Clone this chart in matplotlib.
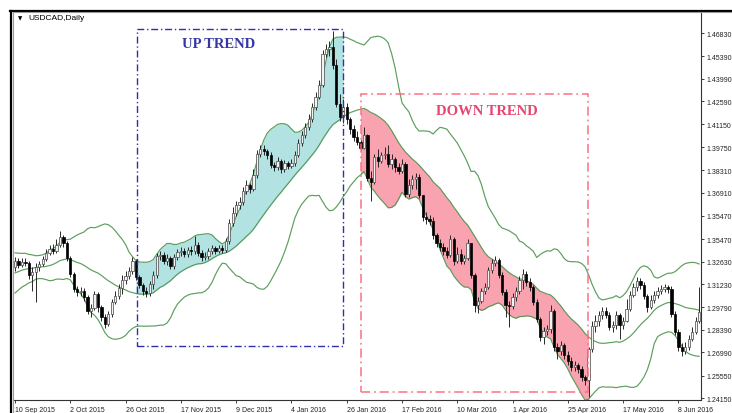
import numpy as np
import pandas as pd
import matplotlib
matplotlib.use("Agg")
import matplotlib.pyplot as plt
from matplotlib.patches import Rectangle
from matplotlib.lines import Line2D

# ---------------- data ----------------
# closes of the 19 sessions before the first visible bar (needed for the 20-period bands)
prior_closes = [1.3075, 1.3090, 1.3125, 1.3110, 1.3150, 1.3135, 1.3190, 1.3250, 1.3265, 1.3240,
                1.3185, 1.3150, 1.3165, 1.3250, 1.3215, 1.3240, 1.3285, 1.3250, 1.3215]
first_open = 1.3229

closes = [
    1.3266, 1.3242, 1.3260, 1.3254, 1.3179, 1.3198, 1.3229, 1.3248, 1.3279, 1.3316,
    1.3341, 1.3329, 1.3366, 1.3415, 1.3378, 1.3285, 1.3186, 1.3092, 1.3074, 1.3080,
    1.3043, 1.2956, 1.2974, 1.3061, 1.2981, 1.2918, 1.2875, 1.2937, 1.3012, 1.3049,
    1.3099, 1.3148, 1.3173, 1.3204, 1.3266, 1.3167, 1.3117, 1.3080, 1.3067, 1.3123,
    1.3179, 1.3297, 1.3304, 1.3266, 1.3285, 1.3235, 1.3291, 1.3322, 1.3329, 1.3310,
    1.3335, 1.3329, 1.3366, 1.3316, 1.3291, 1.3297, 1.3329, 1.3347, 1.3329, 1.3347,
    1.3335, 1.3391, 1.3502, 1.3565, 1.3614, 1.3633, 1.3701, 1.3739, 1.3714, 1.3801,
    1.3931, 1.3962, 1.3950, 1.3925, 1.3863, 1.3850, 1.3888, 1.3838, 1.3875, 1.3857,
    1.3875, 1.3925, 1.3999, 1.4049, 1.4099, 1.4149, 1.4223, 1.4285, 1.4360, 1.4553,
    1.4584, 1.4596, 1.4484, 1.4242, 1.4161, 1.4223, 1.4149, 1.4087, 1.4037, 1.4006,
    1.3969, 1.4049, 1.3782, 1.3757, 1.3913, 1.3888, 1.3925, 1.3931, 1.3869, 1.3900,
    1.3850, 1.3826, 1.3869, 1.3683, 1.3739, 1.3776, 1.3788, 1.3676, 1.3540, 1.3527,
    1.3515, 1.3428, 1.3378, 1.3353, 1.3329, 1.3304, 1.3403, 1.3266, 1.3310, 1.3266,
    1.3285, 1.3378, 1.3179, 1.2993, 1.3018, 1.3080, 1.3105, 1.3210, 1.3254, 1.3273,
    1.3179, 1.3074, 1.2993, 1.2987, 1.3043, 1.3080, 1.3148, 1.3186, 1.3136, 1.3105,
    1.3012, 1.2906, 1.2794, 1.2831, 1.2844, 1.2956, 1.2732, 1.2707, 1.2744, 1.2682,
    1.2645, 1.2608, 1.2620, 1.2595, 1.2545, 1.2527, 1.2719, 1.2863, 1.2894, 1.2931,
    1.2956, 1.2931, 1.2856, 1.2869, 1.2931, 1.2869, 1.2894, 1.2968, 1.3055, 1.3105,
    1.3142, 1.3117, 1.3049, 1.2981, 1.3024, 1.3055, 1.3080, 1.3092, 1.3105, 1.3092,
    1.2937, 1.2825, 1.2732, 1.2707, 1.2732, 1.2782, 1.2825, 1.2894, 1.2950,
]
highs = [
    1.3291, 1.3285, 1.3285, 1.3285, 1.3266, 1.3229, 1.3254, 1.3266, 1.3297, 1.3341,
    1.3366, 1.3372, 1.3403, 1.3453, 1.3428, 1.3391, 1.3297, 1.3198, 1.3111, 1.3105,
    1.3099, 1.3055, 1.2999, 1.3080, 1.3074, 1.2993, 1.2937, 1.2956, 1.3030, 1.3080,
    1.3123, 1.3179, 1.3204, 1.3229, 1.3291, 1.3279, 1.3179, 1.3130, 1.3105, 1.3142,
    1.3204, 1.3316, 1.3329, 1.3322, 1.3310, 1.3297, 1.3310, 1.3341, 1.3353, 1.3347,
    1.3353, 1.3360, 1.3422, 1.3384, 1.3335, 1.3322, 1.3347, 1.3366, 1.3360, 1.3366,
    1.3366, 1.3409, 1.3527, 1.3602, 1.3639, 1.3664, 1.3726, 1.3770, 1.3751, 1.3838,
    1.3956, 1.3987, 1.3987, 1.3962, 1.3944, 1.3882, 1.3913, 1.3900, 1.3894, 1.3888,
    1.3900, 1.3950, 1.4024, 1.4074, 1.4124, 1.4180, 1.4248, 1.4317, 1.4391, 1.4578,
    1.4615, 1.4633, 1.4696, 1.4522, 1.4304, 1.4273, 1.4248, 1.4161, 1.4111, 1.4074,
    1.4018, 1.4099, 1.4055, 1.3826, 1.3931, 1.3962, 1.3944, 1.3975, 1.3987, 1.3931,
    1.3913, 1.3875, 1.3900, 1.3882, 1.3776, 1.3801, 1.3813, 1.3807, 1.3676, 1.3571,
    1.3552, 1.3540, 1.3440, 1.3403, 1.3378, 1.3353, 1.3428, 1.3415, 1.3353, 1.3341,
    1.3304, 1.3403, 1.3366, 1.3192, 1.3043, 1.3099, 1.3130, 1.3229, 1.3279, 1.3297,
    1.3285, 1.3198, 1.3092, 1.3018, 1.3067, 1.3105, 1.3173, 1.3217, 1.3204, 1.3161,
    1.3117, 1.3030, 1.2918, 1.2856, 1.2869, 1.2993, 1.2968, 1.2757, 1.2769, 1.2757,
    1.2707, 1.2670, 1.2645, 1.2633, 1.2614, 1.2558, 1.2732, 1.2894, 1.2931, 1.2956,
    1.2981, 1.2981, 1.2950, 1.2894, 1.2956, 1.2943, 1.2918, 1.3030, 1.3080, 1.3130,
    1.3167, 1.3161, 1.3136, 1.3061, 1.3055, 1.3080, 1.3105, 1.3117, 1.3123, 1.3117,
    1.3111, 1.2956, 1.2844, 1.2757, 1.2763, 1.2806, 1.2856, 1.2918, 1.3105,
]
lows = [
    1.3204, 1.3223, 1.3229, 1.3235, 1.3154, 1.3080, 1.3012, 1.3204, 1.3235, 1.3266,
    1.3304, 1.3310, 1.3316, 1.3353, 1.3353, 1.3266, 1.3167, 1.3074, 1.3049, 1.3049,
    1.3018, 1.2937, 1.2918, 1.2962, 1.2950, 1.2894, 1.2850, 1.2862, 1.2918, 1.2999,
    1.3030, 1.3061, 1.3123, 1.3154, 1.3186, 1.3148, 1.3099, 1.3055, 1.3043, 1.3049,
    1.3092, 1.3161, 1.3273, 1.3248, 1.3242, 1.3217, 1.3217, 1.3273, 1.3297, 1.3291,
    1.3291, 1.3304, 1.3310, 1.3297, 1.3266, 1.3273, 1.3279, 1.3310, 1.3310, 1.3316,
    1.3316, 1.3322, 1.3372, 1.3484, 1.3546, 1.3590, 1.3614, 1.3683, 1.3689, 1.3701,
    1.3782, 1.3913, 1.3925, 1.3900, 1.3844, 1.3826, 1.3832, 1.3813, 1.3819, 1.3838,
    1.3844, 1.3857, 1.3913, 1.3981, 1.4031, 1.4080, 1.4130, 1.4205, 1.4273, 1.4348,
    1.4534, 1.4540, 1.4459, 1.4223, 1.4136, 1.4124, 1.4118, 1.4055, 1.4012, 1.3987,
    1.3956, 1.3962, 1.3763, 1.3639, 1.3745, 1.3850, 1.3875, 1.3900, 1.3850, 1.3838,
    1.3819, 1.3807, 1.3813, 1.3664, 1.3664, 1.3714, 1.3714, 1.3658, 1.3515, 1.3496,
    1.3490, 1.3403, 1.3353, 1.3329, 1.3304, 1.3285, 1.3291, 1.3242, 1.3254, 1.3248,
    1.3248, 1.3273, 1.3161, 1.2950, 1.2943, 1.3005, 1.3061, 1.3092, 1.3192, 1.3235,
    1.3161, 1.3055, 1.2918, 1.2856, 1.2968, 1.3018, 1.3061, 1.3092, 1.3111, 1.3080,
    1.2993, 1.2887, 1.2769, 1.2751, 1.2806, 1.2819, 1.2707, 1.2657, 1.2682, 1.2657,
    1.2620, 1.2583, 1.2583, 1.2570, 1.2521, 1.2496, 1.2421, 1.2701, 1.2825, 1.2863,
    1.2906, 1.2912, 1.2838, 1.2825, 1.2844, 1.2782, 1.2844, 1.2887, 1.2956, 1.3043,
    1.3080, 1.3092, 1.3030, 1.2950, 1.2968, 1.3005, 1.3036, 1.3061, 1.3074, 1.3067,
    1.2918, 1.2806, 1.2707, 1.2676, 1.2688, 1.2713, 1.2769, 1.2813, 1.2881,
]

x_label_pos = [0, 16, 32, 48, 64, 80, 96, 112, 128, 144, 160, 176, 192]
x_labels = ["10 Sep 2015", "2 Oct 2015", "26 Oct 2015", "17 Nov 2015", "9 Dec 2015",
            "4 Jan 2016", "26 Jan 2016", "17 Feb 2016", "10 Mar 2016", "1 Apr 2016",
            "25 Apr 2016", "17 May 2016", "8 Jun 2016"]
y_tick_pos = [1.4683, 1.4539, 1.4399, 1.4259, 1.4115, 1.3975, 1.3831, 1.3691, 1.3547,
              1.3403, 1.3263, 1.3123, 1.2979, 1.2839, 1.2699, 1.2555, 1.2415]
y_labels = ["1.46830", "1.45390", "1.43990", "1.42590", "1.41150", "1.39750", "1.38310",
            "1.36910", "1.35470", "1.35470", "1.32630", "1.31230", "1.29790", "1.28390",
            "1.26990", "1.25550", "1.24150"]

up_trend_span = (35, 95)      # bars shaded between upper and middle band
down_trend_span = (100, 166)  # bars shaded between middle and lower band

# ---------------- derived ----------------
closes_a = np.array(closes)
opens_a = np.array([first_open] + closes[:-1])
highs_a = np.array(highs)
lows_a = np.array(lows)
n = len(closes_a)
idx = np.arange(n)

allc = pd.Series(prior_closes + closes)
mid = allc.rolling(20).mean().to_numpy()[len(prior_closes):]
sd = allc.rolling(20).std(ddof=0).to_numpy()[len(prior_closes):]
upper = mid + 2 * sd
lower = mid - 2 * sd

# ---------------- figure ----------------
W, H = 732, 414
fig = plt.figure(figsize=(W / 100, H / 100), dpi=100)
fig.patch.set_facecolor("white")
ax = fig.add_axes([14 / W, 13 / H, 687 / W, 388 / H])
ax.set_facecolor("white")

ax.set_xlim(-0.29, 198.55)
ax.set_ylim(1.2403, 1.4814)

band_col = "#4a944a"
s0, s1 = up_trend_span
ax.fill_between(idx[s0:s1 + 1], mid[s0:s1 + 1], upper[s0:s1 + 1], color="#b2e2e2", lw=0, zorder=1)
d0, d1 = down_trend_span
ax.fill_between(idx[d0:d1 + 1], lower[d0:d1 + 1], mid[d0:d1 + 1], color="#f9a3b1", lw=0, zorder=1)

for band in (upper, mid, lower):
    ax.plot(idx, band, color=band_col, lw=0.85, alpha=0.9, zorder=2)

# candles
ax.vlines(idx, lows_a, highs_a, color="#1a1a1a", lw=0.65, zorder=3)
bull = closes_a >= opens_a
body_lo = np.minimum(opens_a, closes_a)
body_h = np.maximum(np.abs(closes_a - opens_a), 0.00015)
ax.bar(idx[bull], body_h[bull], bottom=body_lo[bull], width=0.66,
       color="#f2f2f2", edgecolor="#555555", linewidth=0.55, zorder=4)
ax.bar(idx[~bull], body_h[~bull], bottom=body_lo[~bull], width=0.66,
       color="black", edgecolor="black", linewidth=0.5, zorder=4)

# trend boxes
blue = "#2e2eb0"
ax.add_patch(Rectangle((35.2, 1.2738), 95.0 - 35.2, 1.4708 - 1.2738, fill=False,
                       edgecolor=blue, lw=1.0, linestyle=(0, (5, 2, 1, 2)), zorder=6))
red = "#ff6f80"
ax.add_patch(Rectangle((100.1, 1.2452), 165.9 - 100.1, 1.4304 - 1.2452, fill=False,
                       edgecolor=red, lw=1.1, linestyle=(0, (6, 2.5, 1.2, 2.5)), zorder=6))
ax.text(59.0, 1.4620, "UP TREND", family="Liberation Serif", fontsize=10.5,
        fontweight="bold", color="#3535a5", ha="center", va="center", zorder=7)
ax.text(136.6, 1.4204, "DOWN TREND", family="Liberation Serif", fontsize=10.5,
        fontweight="bold", color="#e6456f", ha="center", va="center", zorder=7)

# axes styling
for s in ("left", "top"):
    ax.spines[s].set_visible(False)
for s in ("right", "bottom"):
    ax.spines[s].set_color("#333333")
    ax.spines[s].set_linewidth(0.8)
ax.yaxis.tick_right()
ax.set_yticks(y_tick_pos)
ax.set_yticklabels(y_labels)
ax.tick_params(axis="y", length=2.5, width=0.6, pad=1.5, labelsize=5, colors="#222222")
ax.set_xticks(x_label_pos)
ax.set_xticklabels(x_labels)
ax.tick_params(axis="x", length=2.5, width=0.6, pad=1.5, labelsize=5, colors="#222222")
for t in ax.get_xticklabels():
    t.set_ha("left")
    t.set_family("Liberation Sans")
for t in ax.get_yticklabels():
    t.set_family("Liberation Sans")

# window frame
def px_line(x0, y0, x1, y1, color, lw):
    fig.add_artist(Line2D([x0 / W, x1 / W], [1 - y0 / H, 1 - y1 / H],
                          color=color, lw=lw, transform=fig.transFigure))

px_line(10, 11.5, W, 11.5, "black", 1.6)
px_line(11, 11.5, 11, H, "black", 1.6)
px_line(13, 13.3, W, 13.3, "#9a9a9a", 0.8)
px_line(13.3, 13.3, 13.3, H, "#9a9a9a", 0.8)

fig.text(18 / W, 1 - 19 / H, "\u25BC", fontsize=4, color="black", va="center", ha="left")
fig.text(28 / W, 1 - 19 / H, "USDCAD,Daily", fontsize=6, family="Liberation Sans",
         color="black", va="center", ha="left")

fig.savefig("out.png", dpi=100)
